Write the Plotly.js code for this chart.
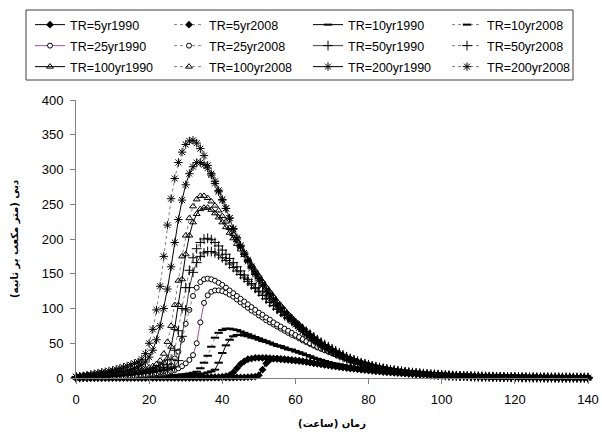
<!DOCTYPE html>
<html><head><meta charset="utf-8">
<script src="https://cdn.plot.ly/plotly-3.0.1.min.js"></script>
<style>body{margin:0;background:#fff}#c{width:602px;height:432px}</style>
</head><body><div id="c"></div>
<script>
// hours 0..140
const hours = [];
for (let i = 0; i <= 140; i++) hours.push(i);

const seriesNames = ["TR=5yr1990","TR=5yr2008","TR=10yr1990","TR=10yr2008","TR=25yr1990","TR=25yr2008","TR=50yr1990","TR=50yr2008","TR=100yr1990","TR=100yr2008","TR=200yr1990","TR=200yr2008"];
const yTitle = 'دبی (متر مکعب بر ثانیه)';
const xTitle = 'زمان (ساعت)';

const tailSmall = [4.2,3.9,3.6,3.4,3.2,3,2.8,2.6,2.4,2.2, 2.1,2,1.9,1.8,1.7,1.6,1.5,1.4,1.3,1.2, 1.15,1.1,1,0.95,0.9,0.85,0.8,0.76,0.72,0.69, 0.66,0.63,0.6,0.57,0.54,0.52,0.5,0.48,0.46,0.44,0.42];

const q5yr1990 = [0.1,0.1,0.1,0.1,0.1,0.1,0.1,0.1,0.1,0.1, 0.1,0.1,0.1,0.1,0.1,0.1,0.1,0.1,0.1,0.1, 0.2,0.2,0.2,0.2,0.2,0.2,0.2,0.2,0.2,0.2, 0.2,0.2,0.3,0.3,0.3,0.3,0.4,0.4,0.4,0.5, 0.5,0.6,0.6,0.7,0.8,0.9,1,1.2,1.5,2,
 4,12,21,26,28,28,27.5,27,26.5,26, 25.3,24.6,23.9,23.1,22.3,21.5,20.7,19.9,19.1,18.3,
 17.6,16.8,16,15.3,14.6,14,13.4,12.8,12.2,11.6, 11,10.5,10,9.5,9,8.6,8.2,7.8,7.4,7, 6.7,6.4,6.1,5.8,5.5,5.2,5,4.7,4.5,4.3,
 4.1,3.9,3.7,3.5,3.3,3.1,2.9,2.7,2.5,2.3, 2.2,2.1,2,1.9,1.8,1.7,1.6,1.5,1.4,1.3, 1.2,1.15,1.1,1.05,1,0.95,0.9,0.85,0.8,0.76, 0.72,0.68,0.64,0.6,0.57,0.54,0.51,0.48,0.45,0.43,0.4];
const q5yr2008 = [0.1,0.1,0.1,0.1,0.1,0.1,0.1,0.1,0.1,0.1, 0.2,0.2,0.2,0.2,0.2,0.2,0.2,0.2,0.2,0.2, 0.3,0.3,0.3,0.4,0.4,0.4,0.5,0.5,0.5,0.6, 0.6,0.7,0.7,0.8,0.8,0.9,1,1.1,1.2,1.4,
 1.8,2.5,4,8,14,20,24,27,28,29, 29,29,29,28.5,28,27.5,27,26.5,26,25.5, 25,24.5,24,23.2,22.4,21.6,20.8,20,19.2,18.4,
 17.6,16.8,16,15.3,14.6,14,13.4,12.8,12.2,11.6, 11,10.5,10,9.5,9,8.6,8.2,7.8,7.4,7, 6.7,6.4,6.1,5.8,5.5,5.2,5,4.7,4.5,4.3,
 4.1,3.9,3.7,3.5,3.3,3.1,2.9,2.7,2.5,2.3, 2.2,2.1,2,1.9,1.8,1.7,1.6,1.5,1.4,1.3, 1.2,1.15,1.1,1.05,1,0.95,0.9,0.85,0.8,0.76, 0.72,0.68,0.64,0.6,0.57,0.54,0.51,0.48,0.45,0.43,0.4];
const q10yr1990 = [0.2,0.2,0.3,0.3,0.3,0.4,0.4,0.4,0.5,0.5, 0.6,0.6,0.7,0.7,0.8,0.9,1,1.1,1.2,1.3, 1.4,1.5,1.7,1.9,2.1,2.3,2.5,2.8,3.1,3.4,
 3.8,4.2,4.7,5.2,5.8,6.5,8,9.5,12,22, 36,47,55,60,62,62,61,60,58,57, 55,53,52,50,48,46,45,43,41,40,
 38,36.5,35,33,31,29,27.5,26,24.5,23, 21.5,20.5,19.5,18.5,17.5,16.5,15.5,14.7,14,13.3,
 12.6,12,11.4,10.8,10.2,9.7,9.2,8.7,8.3,7.9, 7.5,7.1,6.7,6.4,6,5.7,5.4,5.1,4.8,4.5].concat(tailSmall);
const q10yr2008 = [0.3,0.3,0.4,0.4,0.5,0.5,0.6,0.6,0.7,0.7, 0.8,0.9,1,1.1,1.2,1.3,1.4,1.5,1.7,1.9, 2.1,2.3,2.5,2.8,3.1,3.4,3.8,4.2,4.7,5.2,
 5.8,6.5,7.5,9,14,22,32,45,58,65, 69,71,71,70,69,67,65,63,61,59, 57,55,53,51,49,47,46,44,42,41,
 39,37,35,33,31,29,27.5,26,24.5,23, 21.5,20.5,19.5,18.5,17.5,16.5,15.5,14.7,14,13.3,
 12.6,12,11.4,10.8,10.2,9.7,9.2,8.7,8.3,7.9, 7.5,7.1,6.7,6.4,6,5.7,5.4,5.1,4.8,4.5].concat(tailSmall);
const q25yr1990 = [0.4,0.5,0.6,0.7,0.8,0.9,1,1.1,1.2,1.3, 1.4,1.6,1.8,2,2.2,2.4,2.7,3,3.3,3.7, 4.1,4.6,5.2,6,7,8,9.5,11.5,14,17,
 21,26,33,50,80,108,119,124,126,126, 125,123,120,117,113,109,105,101,97,94, 90,87,83,80,77,74,71,68,65,62,
 60,57,54,51.5,49,46.5,44,42,40,38, 36,34,32,30,28,26,24.5,23,21.5,20,
 18.5,17,15.7,14.5,13.4,12.4,11.5,10.7,10,9.3, 8.6,8,7.5,7,6.5,6,5.6,5.2,4.9,4.6].concat(tailSmall);
const q25yr2008 = [0.5,0.6,0.7,0.8,0.9,1,1.1,1.2,1.3,1.5, 1.7,1.9,2.1,2.3,2.5,2.8,3.1,3.5,4,4.5, 5,5.7,6.5,8,10,13,18,28,38,55,
 78,98,118,130,138,142,143,142,140,137, 134,130,126,122,118,114,110,106,102,98, 94,91,87,84,80,77,74,71,68,65,
 62,59,56,53,50,47.5,45,42.5,40,38, 36,34,32,30,28,26,24.5,23,21.5,20,
 18.5,17,15.7,14.5,13.4,12.4,11.5,10.7,10,9.3, 8.6,8,7.5,7,6.5,6,5.6,5.2,4.9,4.6].concat(tailSmall);
const q50yr1990 = [0.8,1,1.2,1.4,1.6,1.8,2,2.2,2.4,2.6, 2.9,3.2,3.5,3.8,4.1,4.5,5,5.5,6,6.6, 7.3,8,9,10,11,12.5,14,16,25,60,
 98,130,152,166,175,180,182,182,180,177, 173,169,164,159,154,149,144,139,134,129, 124,119,114,109,104,99,95,91,87,83,
 79,75,71,67,63,59,55,51.5,48,45, 42,39,36,33,30.5,28,26,24,22,20.5,
 19,17.5,16.2,15,13.8,12.8,11.8,11,10.2,9.5, 8.8,8.2,7.6,7.1,6.6,6.1,5.7,5.3,5,4.6].concat(tailSmall);
const q50yr2008 = [1,1.2,1.4,1.6,1.8,2,2.2,2.5,2.8,3.1, 3.4,3.8,4.2,4.6,5,5.5,6,6.6,7.2,8, 9,10,11.5,13,15,19,27,40,68,100,
 130,155,173,186,195,200,201,199,195,190, 184,178,172,166,160,154,148,142,136,130, 125,119,114,109,104,99,95,90,86,82,
 78,74,70,66,62,58,54,50.5,47,44, 41,38,35,32.5,30,27.5,25.5,23.5,21.5,20,
 18.5,17,15.7,14.5,13.4,12.4,11.5,10.7,10,9.3, 8.6,8,7.5,7,6.5,6,5.6,5.2,4.9,4.6].concat(tailSmall);
const q100yr1990 = [1.2,1.4,1.6,1.8,2,2.3,2.6,2.9,3.2,3.5, 4,4.4,4.8,5.2,5.7,6.2,7,8,9,10, 11.5,13,15,18,22,28,45,72,105,142,
 178,205,224,236,243,245,245,242,237,231, 224,217,209,201,193,185,177,169,161,153, 146,138,131,124,117,110,104,98,92,87,
 82,77,72,67,62,58,54,50,47,44, 41,38,35,32.5,30,28,26,24,22,20.5,
 19,17.5,16.2,15,13.8,12.8,11.8,11,10.2,9.5, 8.8,8.2,7.6,7.1,6.6,6.1,5.7,5.3,5,4.6].concat(tailSmall);
const q100yr2008 = [1.5,1.8,2,2.3,2.6,3,3.3,3.6,4,4.5, 5,5.5,6,6.5,7,8,9,10,11.5,13, 15,17,20,25,35,52,75,105,140,175,
 205,230,247,257,262,262,259,254,248,241, 233,225,216,207,198,189,180,171,163,155, 147,139,131,124,117,110,104,98,92,87,
 80,75,70,65,61,57,53,49,46,43, 40,37,34.5,32,29.5,27.5,25.5,23.5,21.5,20,
 18.5,17,15.7,14.5,13.4,12.4,11.5,10.7,10,9.3, 8.6,8,7.5,7,6.5,6,5.6,5.2,4.9,4.6].concat(tailSmall);
const q200yr1990 = [1.5,2,2.5,3,3.5,4,5,5.5,6,7, 8,8.5,9,10,11,12,14,16,19,23, 30,40,55,75,100,128,160,195,228,256,
 278,294,304,310,310,307,302,294,283,270, 257,244,230,215,202,191,180,170,160,151, 143,135,127,120,113,106,100,94,89,84,
 79,74,69,64,60,56,52,48,45,42, 39,36,33.5,31,28.5,26.5,24.5,22.5,21,19.5,
 18,16.5,15.2,14,13,12,11.2,10.4,9.7,9, 8.4,7.8,7.3,6.8,6.3,5.9,5.5,5.1,4.8,4.5,
 4.2,3.9,3.6,3.4,3.2,3,2.8,2.6,2.4,2.3, 2.1,2,1.9,1.8,1.7,1.6,1.5,1.4,1.3,1.25, 1.2,1.1,1.05,1,0.95,0.9,0.85,0.8,0.77,0.74, 0.7,0.67,0.64,0.61,0.58,0.55,0.53,0.5,0.48,0.46,0.44];
const q200yr2008 = [2,2.5,3,4,5,6,7,8,9,10, 11,12.5,14,15.5,17,19,21,23,27,35, 50,70,98,132,175,220,258,287,310,325,
 336,341,342,338,330,320,306,292,280,268, 256,244,230,214,200,189,178,168,158,149, 141,133,125,118,111,104,98,92,87,82,
 77,72,67,62,58,54,50,46,43,40, 37,34.5,32,29.5,27,25,23,21.5,20,18.5,
 17,15.7,14.5,13.5,12.5,11.6,10.7,10,9.2,8.6, 8,7.5,7,6.5,6,5.6,5.2,4.8,4.5,4.2,
 3.9,3.7,3.4,3.2,3,2.8,2.6,2.4,2.3,2.1, 2,1.9,1.8,1.7,1.6,1.5,1.4,1.3,1.25,1.2, 1.1,1.05,1,0.95,0.9,0.85,0.8,0.77,0.74,0.7, 0.67,0.64,0.61,0.58,0.55,0.53,0.5,0.48,0.46,0.44,0.42];

const seriesValues = [q5yr1990,q5yr2008,q10yr1990,q10yr2008,q25yr1990,q25yr2008,q50yr1990,q50yr2008,q100yr1990,q100yr2008,q200yr1990,q200yr2008];

const solid = {color:'#000', width:1, dash:'solid'};
const dotted = {color:'#7f7f7f', width:1, dash:'dot'};
const styles = [
  {line: solid, marker:{symbol:'diamond', size:6, color:'#000'}},
  {line: dotted, marker:{symbol:'diamond', size:6, color:'#000'}},
  {line: solid, marker:{symbol:'line-ew', size:6, color:'#000', line:{color:'#000', width:2}}},
  {line: dotted, marker:{symbol:'line-ew', size:6, color:'#000', line:{color:'#000', width:2}}},
  {line: {color:'#a64ca6', width:1, dash:'solid'}, marker:{symbol:'circle', size:5, color:'#fff', line:{color:'#000', width:1}}},
  {line: dotted, marker:{symbol:'circle', size:5, color:'#fff', line:{color:'#000', width:1}}},
  {line: {color:'#404040', width:1, dash:'solid'}, marker:{symbol:'cross-thin-open', size:7, color:'#000', line:{color:'#000', width:1}}},
  {line: dotted, marker:{symbol:'cross-thin-open', size:7, color:'#000', line:{color:'#000', width:1}}},
  {line: solid, marker:{symbol:'triangle-up-open', size:6, color:'#000', line:{color:'#000', width:1}}},
  {line: dotted, marker:{symbol:'triangle-up-open', size:6, color:'#000', line:{color:'#000', width:1}}},
  {line: solid, marker:{symbol:'asterisk-open', size:7, color:'#000', line:{color:'#000', width:1}}},
  {line: dotted, marker:{symbol:'asterisk-open', size:7, color:'#000', line:{color:'#000', width:1}}}
];

// legend grid: 4 columns x 3 rows (pixel positions of each entry)
const legendColX = [30, 169, 308, 447];
const legendRowY = [10, 31, 52];
const legendIds = seriesNames.map((n, i) => i === 0 ? 'legend' : 'legend' + (i + 1));

const traces = seriesNames.map((n, i) => ({
  type:'scatter', mode:'lines+markers', name:n, x:hours, y:seriesValues[i],
  line: styles[i].line, marker: styles[i].marker, cliponaxis:false, legend: legendIds[i]
}));

const FONT = 'Liberation Sans, Arial, DejaVu Sans, sans-serif';
const W = 602, H = 432;
const M = {l:76, r:14, t:100, b:54, autoexpand:false};
const pw = W - M.l - M.r, ph = H - M.t - M.b;
const layout = {
  width:W, height:H,
  margin:M,
  paper_bgcolor:'#fff', plot_bgcolor:'#fff',
  font:{family:FONT, size:13, color:'#000'},
  showlegend:true,
  xaxis:{range:[0,140], dtick:20, tick0:0, showgrid:false, zeroline:false, showline:true, linecolor:'#808080', linewidth:1,
    ticks:'outside', ticklen:5, tickcolor:'#808080', ticklabelstandoff:4,
    title:{text:xTitle, font:{family:'DejaVu Sans', size:10, color:'#000', weight:'bold'}, standoff:14}},
  yaxis:{range:[0,400], dtick:50, tick0:0, showgrid:false, zeroline:false, showline:true, linecolor:'#808080', linewidth:1,
    ticks:'outside', ticklen:5, tickcolor:'#808080', ticklabelstandoff:4, automargin:false},
  annotations:[{text:yTitle, xref:'paper', yref:'paper', x:(15 - M.l)/pw, y:0.5, xanchor:'center', yanchor:'middle',
    textangle:-90, showarrow:false, font:{family:'DejaVu Sans', size:10, color:'#000', weight:'bold'}}],
  shapes:[]
};
legendIds.forEach((id, i) => {
  const col = i % 4, row = Math.floor(i / 4);
  layout[id] = {orientation:'v', xref:'container', yref:'container',
    x: legendColX[col] / W, y: 1 - legendRowY[row] / H, xanchor:'left', yanchor:'top',
    borderwidth:0, bgcolor:'rgba(0,0,0,0)', font:{family:FONT, size:12.5, color:'#000'}, itemwidth:30};
});
// legend frame
const box = {x0:26, x1:573, y0:10, y1:80};
layout.shapes.push({type:'rect', xref:'paper', yref:'paper',
  x0:(box.x0 - M.l)/pw, x1:(box.x1 - M.l)/pw, y0:(H - M.b - box.y1)/ph, y1:(H - M.b - box.y0)/ph,
  line:{color:'#404040', width:1}, fillcolor:'rgba(0,0,0,0)'});

Plotly.newPlot('c', traces, layout, {displayModeBar:false, staticPlot:true});
</script></body></html>
